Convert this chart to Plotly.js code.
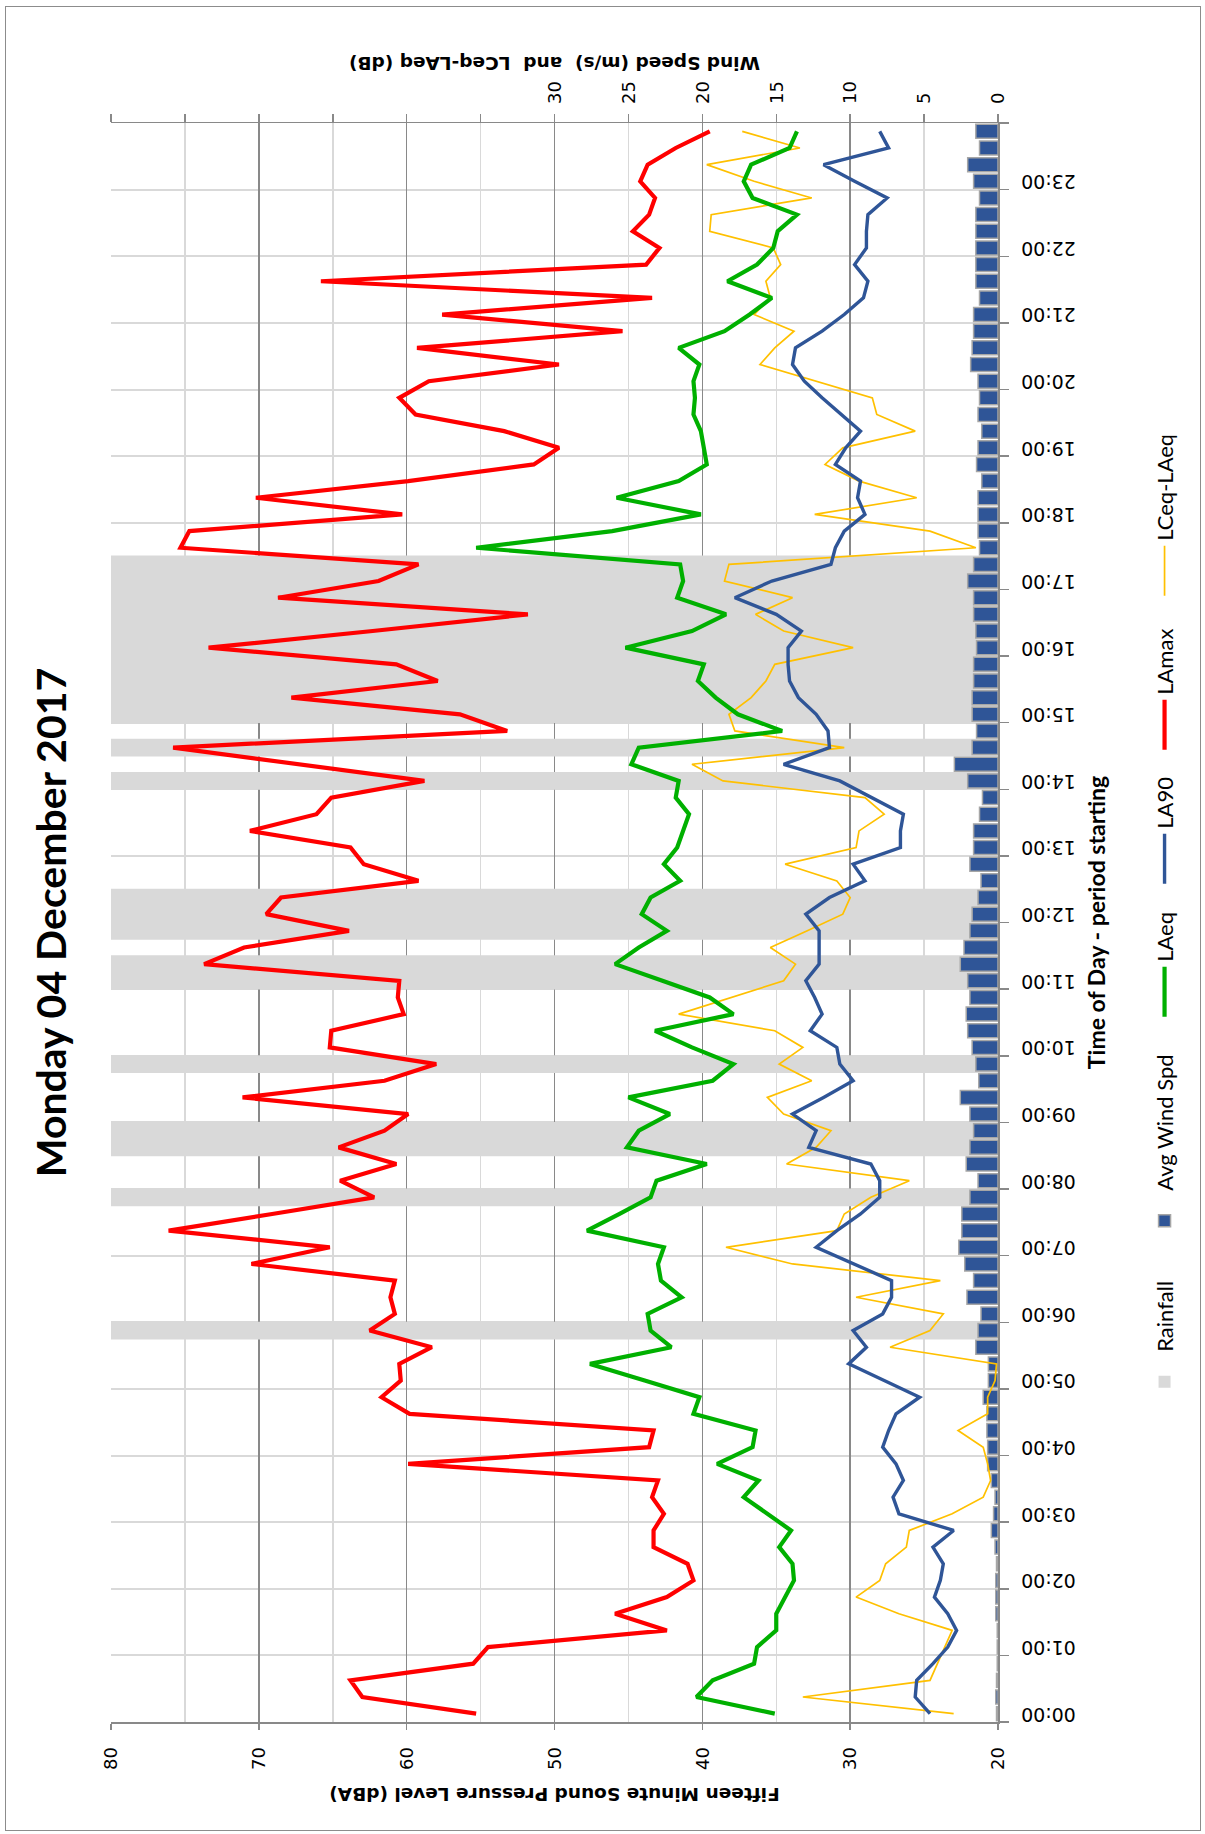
<!DOCTYPE html>
<html>
<head>
<meta charset="utf-8">
<script src="https://cdn.plot.ly/plotly-3.0.1.min.js"></script>
<style>
html,body{margin:0;padding:0;width:1205px;height:1834px;overflow:hidden;background:#fff;}
#wrap{position:absolute;left:0;top:0;width:1834px;height:1205px;transform-origin:0 0;}
#chart{position:absolute;left:0;top:0;width:1834px;height:1205px;}
#frame{position:absolute;left:3px;top:5px;width:1825px;height:1196px;border:1.5px solid #8c8c8c;box-sizing:border-box;pointer-events:none;}
</style>
</head>
<body>
<div id="wrap"><div id="chart"></div><div id="frame"></div></div>
<script>
// ---- tick labels (hour of day) ----
const hourLabels = ['00:00','01:00','02:00','03:00','04:00','05:00','06:00','07:00',
  '08:00','09:00','10:00','11:00','12:00','13:00','14:00','15:00',
  '16:00','17:00','18:00','19:00','20:00','21:00','22:00','23:00'];
const quarterMinutes = ['00','15','30','45'];

// ---- 15-minute series (00:00 .. 23:45) ----
const laMax = [55.3,63.0,63.8,55.5,54.5,42.4,45.9,42.4,
  40.6,41.0,43.3,43.3,42.6,43.4,43.0,59.9,
  43.6,43.3,59.8,61.7,60.4,60.5,58.3,62.5,
  60.8,61.1,60.8,70.5,65.2,76.1,69.1,62.2,
  64.5,60.7,64.6,61.5,59.9,71.1,61.5,58.0,
  65.2,65.1,60.2,60.6,60.5,73.7,71.0,63.9,
  69.5,68.5,59.2,62.9,63.8,70.6,66.1,65.1,
  58.8,67.3,75.8,53.2,56.4,67.8,57.9,60.7,
  73.4,62.3,51.8,68.7,61.9,59.2,75.3,74.7,
  60.3,70.2,59.9,51.4,49.7,53.4,59.4,60.5,
  58.5,49.7,59.3,45.4,57.6,43.4,65.8,43.8,
  42.9,44.7,43.6,43.2,44.2,43.7,41.8,39.5];

const laEq = [35.1,40.4,39.3,36.5,36.3,35.0,35.0,34.4,
  33.8,33.9,34.8,34.0,35.6,37.2,36.2,39.0,
  36.6,36.4,40.6,40.2,43.9,47.6,42.1,43.5,
  43.7,41.4,42.8,43.0,42.6,47.8,45.6,43.5,
  43.1,39.7,45.1,44.3,42.2,45.0,39.3,37.9,
  40.7,43.2,37.9,39.5,42.7,45.9,44.3,42.4,
  44.1,43.5,41.5,42.6,41.7,41.3,40.9,41.8,
  41.6,44.8,44.3,34.6,37.6,39.1,40.3,39.9,
  45.2,40.7,38.4,41.7,41.3,41.5,55.3,46.1,
  40.1,45.8,41.6,39.7,39.9,40.1,40.6,40.5,
  40.6,40.2,41.6,38.5,36.8,35.3,38.3,36.3,
  35.2,34.9,33.6,36.6,37.2,36.7,34.1,33.6];

const la90 = [24.6,25.6,25.5,24.4,23.4,22.8,23.4,24.3,
  23.9,23.7,24.4,23.0,26.7,27.1,26.4,26.9,
  27.8,27.4,26.9,25.3,27.7,30.1,28.9,29.8,
  27.8,27.2,27.2,29.8,32.3,30.9,29.3,28.0,
  28.0,28.6,32.8,32.3,33.9,31.8,29.8,30.7,
  30.9,32.7,31.9,32.4,33.0,32.1,32.1,32.1,
  33.0,31.4,29.0,29.8,26.6,26.6,26.4,28.6,
  30.7,34.5,31.4,31.5,32.3,33.5,34.1,34.2,
  34.2,33.3,35.0,37.8,35.3,31.3,31.0,30.4,
  29.0,29.5,29.3,31.0,30.3,29.3,30.6,31.9,
  33.1,33.9,33.7,31.9,30.4,29.1,28.8,29.7,
  28.9,28.9,28.8,27.5,29.7,31.8,27.4,28.0];

const lceqMinusLaeq = [3.0,13.2,4.6,4.1,3.6,3.1,6.7,9.6,
  8.0,7.6,6.2,6.0,3.1,1.0,0.5,0.7,
  1.0,2.7,0.7,0.7,0.2,0.1,7.3,4.6,
  3.7,9.6,3.9,13.9,18.4,10.9,10.4,8.6,
  6.0,14.3,12.3,11.3,14.5,15.6,12.6,14.8,
  13.2,15.1,21.6,18.0,14.5,13.7,15.4,12.9,
  10.5,10.0,10.9,14.4,9.6,9.4,7.7,9.0,
  18.6,20.7,10.4,17.8,18.2,16.7,15.7,15.1,
  9.8,14.5,16.4,13.9,18.5,18.2,1.5,4.6,
  12.4,5.5,9.4,11.7,10.5,5.6,8.2,8.5,
  12.3,16.1,15.1,13.8,16.5,15.4,15.7,14.7,
  15.2,19.5,19.4,12.6,16.5,19.7,13.4,17.3];

const windSpeed = [0.1,0.15,0.1,0.05,0.05,0.05,0.15,0.15,
  0.15,0.1,0.2,0.45,0.3,0.2,0.45,0.7,
  0.7,0.75,0.75,1.0,0.65,0.65,1.5,1.35,
  1.15,2.1,1.65,2.25,2.65,2.45,2.45,1.9,
  1.35,2.15,1.9,1.65,1.9,2.55,1.3,1.5,
  1.75,2.05,2.15,1.9,2.05,2.55,2.3,1.9,
  1.75,1.35,1.15,1.9,1.65,1.65,1.25,1.05,
  2.05,2.95,1.75,1.45,1.75,1.75,1.65,1.65,
  1.45,1.5,1.65,1.65,2.05,1.65,1.25,1.35,
  1.35,1.35,1.1,1.45,1.35,1.1,1.35,1.25,
  1.35,1.85,1.75,1.65,1.65,1.25,1.5,1.5,
  1.5,1.5,1.5,1.25,1.65,2.05,1.25,1.5];

// rainfall periods: bars drawn to the top of the right-hand axis (60)
const rainfall = [0,0,0,0,0,0,0,0,
  0,0,0,0,0,0,0,0,
  0,0,0,0,0,0,0,60,
  0,0,0,0,0,0,0,60,
  0,0,60,60,0,0,0,60,
  0,0,0,0,60,60,0,60,
  60,60,0,0,0,0,0,0,
  60,0,60,0,60,60,60,60,
  60,60,60,60,60,60,0,0,
  0,0,0,0,0,0,0,0,
  0,0,0,0,0,0,0,0,
  0,0,0,0,0,0,0,0];

const windTickVals = [0,5,10,15,20,25,30,35,40,45,50,55,60];
const windTickText = ['0','5','10','15','20','25','30','','','','','',''];

// ---- build categories / positions ----
const categories = [];
hourLabels.forEach(h => quarterMinutes.forEach(m => categories.push(h.slice(0,3) + m)));
const pos = categories.map((c, i) => i);
const hourPos = hourLabels.map(h => categories.indexOf(h));
const boundaryPos = hourPos.map(p => p - 0.5).concat([categories.length - 0.5]);
const xRange = [-0.5, categories.length - 0.5];

const GRID_DARK = '#898989';
const GRID_LIGHT = '#D9D9D9';
const tickFont = {family: 'DejaVu Sans', size: 18, color: '#000'};
const axisTitleFont = {family: 'DejaVu Sans', size: 18.5, weight: 700, color: '#000'};

const traces = [
  {type: 'bar', name: 'Rainfall', x: pos, y: rainfall, xaxis: 'x', yaxis: 'y',
   width: 1.06, marker: {color: GRID_LIGHT, line: {width: 0}},
   customdata: categories, hovertemplate: '%{customdata}<extra>Rainfall</extra>',
   legendrank: 1, legendwidth: 96},
  {type: 'bar', name: 'Avg Wind Spd', x: pos, y: windSpeed, xaxis: 'x', yaxis: 'y',
   width: 0.84, marker: {color: '#2F5597', line: {color: '#A6A6A6', width: 1.5}},
   customdata: categories, hovertemplate: '%{customdata}: %{y}<extra>Avg Wind Spd</extra>',
   legendrank: 2, legendwidth: 164},
  {type: 'scatter', mode: 'lines', name: 'LCeq-LAeq', x: pos, y: lceqMinusLaeq, xaxis: 'x', yaxis: 'y',
   line: {color: '#FFC000', width: 1.7},
   customdata: categories, hovertemplate: '%{customdata}: %{y}<extra>LCeq-LAeq</extra>',
   legendrank: 6, legendwidth: 100},
  {type: 'scatter', mode: 'lines', name: 'LAmax', x: pos, y: laMax, xaxis: 'x2', yaxis: 'y2',
   line: {color: '#FF0000', width: 4.2},
   customdata: categories, hovertemplate: '%{customdata}: %{y}<extra>LAmax</extra>',
   legendrank: 5, legendwidth: 89},
  {type: 'scatter', mode: 'lines', name: 'LAeq', x: pos, y: laEq, xaxis: 'x2', yaxis: 'y2',
   line: {color: '#00B000', width: 4.2},
   customdata: categories, hovertemplate: '%{customdata}: %{y}<extra>LAeq</extra>',
   legendrank: 3, legendwidth: 68},
  {type: 'scatter', mode: 'lines', name: 'LA90', x: pos, y: la90, xaxis: 'x2', yaxis: 'y2',
   line: {color: '#2F5597', width: 3.4},
   customdata: categories, hovertemplate: '%{customdata}: %{y}<extra>LA90</extra>',
   legendrank: 4, legendwidth: 69}
];

const layout = {
  width: 1834, height: 1205,
  margin: {l: 112, r: 123, t: 111, b: 207, autoexpand: false},
  paper_bgcolor: '#ffffff', plot_bgcolor: 'rgba(0,0,0,0)',
  barmode: 'overlay',
  showlegend: true,
  title: {text: 'Monday 04 December 2017',
          font: {family: 'Lato', size: 41, weight: 700, color: '#000'},
          x: 0.5, xref: 'paper', xanchor: 'center',
          y: 1 - 52/1205, yref: 'container', yanchor: 'middle'},
  xaxis: {
    type: 'linear', range: xRange, autorange: false, anchor: 'y',
    tickmode: 'array', tickvals: hourPos, ticktext: hourLabels,
    tickangle: -90, ticks: 'outside', ticklen: 10, tickcolor: 'rgba(0,0,0,0)',
    ticklabelstandoff: 4, tickfont: {family: 'DejaVu Sans', size: 19, color: '#000'},
    showgrid: false, zeroline: false,
    showline: true, linecolor: GRID_DARK, linewidth: 1.5,
    title: {text: 'Time of Day - period starting',
            font: {family: 'Lato', size: 23, weight: 700, color: '#000'}, standoff: 14}
  },
  xaxis2: {
    type: 'linear', range: xRange, autorange: false, overlaying: 'x', anchor: 'y2', side: 'bottom',
    tickmode: 'array', tickvals: boundaryPos,
    ticks: 'outside', ticklen: 10, tickwidth: 1.5, tickcolor: GRID_DARK,
    showticklabels: false, showgrid: true, gridcolor: GRID_LIGHT, gridwidth: 2,
    zeroline: false, showline: false
  },
  yaxis: {
    range: [0, 60], autorange: false, side: 'right', anchor: 'x',
    tickmode: 'array', tickvals: windTickVals, ticktext: windTickText,
    ticks: 'outside', ticklen: 8, tickwidth: 1.5, tickcolor: GRID_DARK,
    ticklabelstandoff: 6, tickfont: tickFont,
    showgrid: false, zeroline: false,
    showline: true, linecolor: GRID_DARK, linewidth: 1.5,
    title: {text: 'Wind Speed (m/s)  and  LCeq-LAeq (dB)', font: axisTitleFont, standoff: 12}
  },
  yaxis2: {
    range: [20, 80], autorange: false, overlaying: 'y', side: 'left', anchor: 'x2',
    tickmode: 'linear', tick0: 20, dtick: 10,
    ticks: 'outside', ticklen: 6, tickwidth: 1.5, tickcolor: GRID_DARK,
    ticklabelstandoff: 14, tickfont: tickFont,
    showgrid: true, gridcolor: GRID_DARK, gridwidth: 1.5,
    minor: {dtick: 5, tick0: 20, showgrid: true, gridcolor: GRID_LIGHT, gridwidth: 1.5, ticks: ''},
    zeroline: false, showline: true, linecolor: GRID_DARK, linewidth: 1.5,
    title: {text: 'Fifteen Minute Sound Pressure Level (dBA)', font: axisTitleFont, standoff: 12}
  },
  legend: {
    orientation: 'h', x: 0.194, xanchor: 'left', y: -0.188, yanchor: 'middle',
    font: {family: 'Lato', size: 22, color: '#000'},
    bgcolor: 'rgba(0,0,0,0)', borderwidth: 0, itemwidth: 50, traceorder: 'normal'
  }
};

Plotly.newPlot('chart', traces, layout, {displayModeBar: false, staticPlot: true}).then(function () {
  document.getElementById('wrap').style.transform = 'translateY(1834px) rotate(-90deg)';
});
</script>
</body>
</html>
